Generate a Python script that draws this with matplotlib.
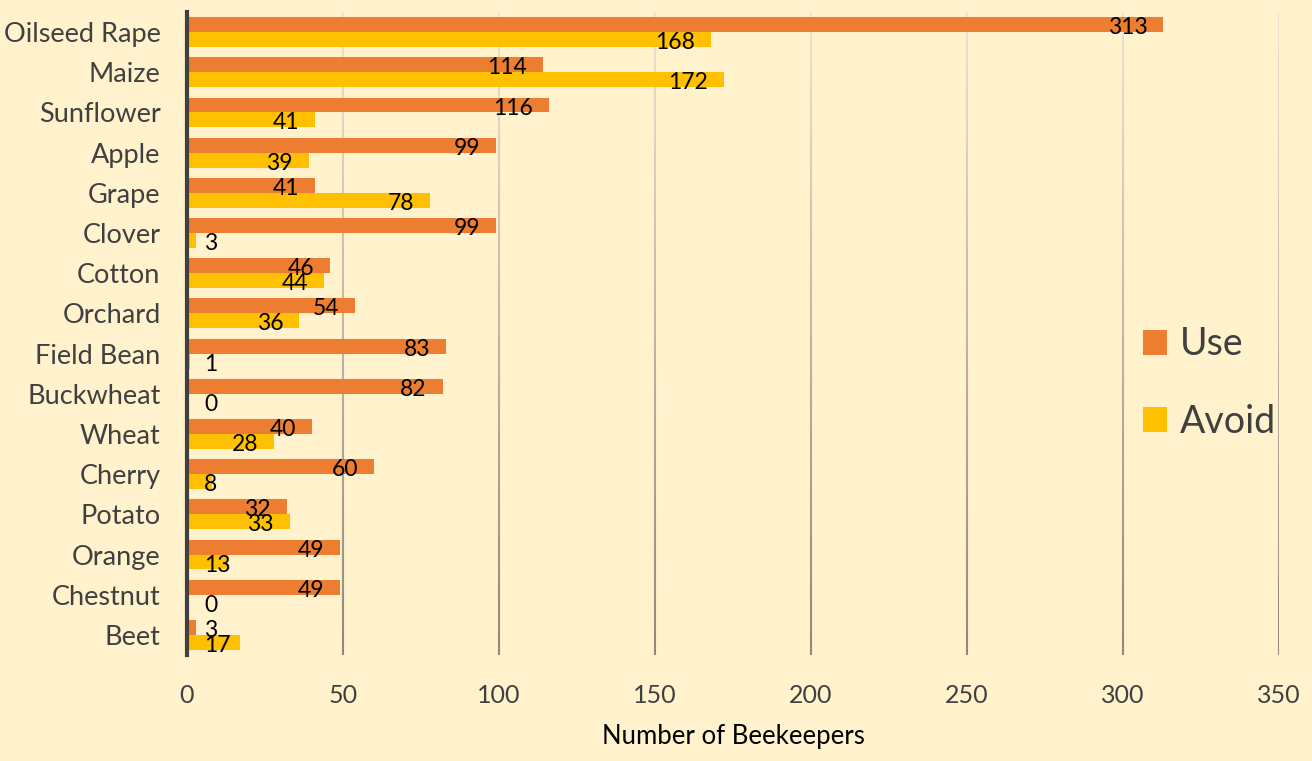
import numpy as np
import matplotlib
matplotlib.use("Agg")
import matplotlib.pyplot as plt
from matplotlib.collections import LineCollection
from matplotlib.colors import to_rgb

plt.rcParams['font.family'] = ['Lato', 'DejaVu Sans']

crops = ['Oilseed Rape', 'Maize', 'Sunflower', 'Apple', 'Grape', 'Clover',
         'Cotton', 'Orchard', 'Field Bean', 'Buckwheat', 'Wheat', 'Cherry',
         'Potato', 'Orange', 'Chestnut', 'Beet']
use = [313, 114, 116, 99, 41, 99, 46, 54, 83, 82, 40, 60, 32, 49, 49, 3]
avoid = [168, 172, 41, 39, 78, 3, 44, 36, 1, 0, 28, 8, 33, 13, 0, 17]
xticks = [0, 50, 100, 150, 200, 250, 300, 350]

BG = '#FFF2CC'
ORANGE = '#ED7D31'
YELLOW = '#FFC000'
GREY = '#404040'

fig = plt.figure(figsize=(13.12, 7.61), dpi=100, facecolor=BG)
ax = fig.add_axes([0.1425, 0.1393, 0.8323, 0.8449], facecolor=BG)

y = np.arange(len(crops))
h = 0.372
ax.barh(y - h / 2, use, h, color=ORANGE, label='Use', zorder=3)
ax.barh(y + h / 2, avoid, h, color=YELLOW, label='Avoid', zorder=3)

ax.set_xlim(0, 350)
ax.set_ylim(len(crops) - 0.5, -0.5)
ax.set_xticks(xticks)
ax.set_yticks(y)
ax.set_yticklabels(crops, fontsize=19.5, color=GREY)
ax.tick_params(axis='x', length=0, pad=21, labelsize=18, labelcolor=GREY)
ax.tick_params(axis='y', length=0, pad=19)

for s in ['top', 'right', 'bottom']:
    ax.spines[s].set_visible(False)
ax.spines['left'].set_color(GREY)
ax.spines['left'].set_linewidth(3)
ax.spines['left'].set_zorder(5)

# gradient gridlines, light at top and darker at the bottom
top_c = np.array(to_rgb('#EDE4CF'))
bot_c = np.array(to_rgb('#8F897E'))
n = 60
ys = np.linspace(-0.5, len(crops) - 0.5, n + 1)
for xv in xticks[1:]:
    segs = [[(xv, ys[i]), (xv, ys[i + 1])] for i in range(n)]
    t = np.linspace(0, 1, n)[:, None]
    cols = top_c * (1 - t) + bot_c * t
    lc = LineCollection(segs, colors=cols, linewidths=1.5, zorder=1)
    ax.add_collection(lc)

# data labels: inside end, or just past the axis when the bar is too short
fig.canvas.draw()
px_per_unit = ax.get_window_extent().width / 350
for vals, off in [(use, -h / 2), (avoid, h / 2)]:
    for i, v in enumerate(vals):
        txt = str(v)
        tw = 12 * len(txt)
        if v * px_per_unit - 16 - tw < 17:
            ax.annotate(txt, xy=(0, i + off), xytext=(17, -3), textcoords='offset pixels',
                        ha='left', va='center', fontsize=16.5, color='black', zorder=6)
        else:
            ax.annotate(txt, xy=(v, i + off), xytext=(-16, -3), textcoords='offset pixels',
                        ha='right', va='center', fontsize=16.5, color='black', zorder=6)

ax.set_xlabel('Number of Beekeepers', fontsize=18.5, color='black', labelpad=12)

leg = ax.legend(loc='center left', bbox_to_anchor=(1143 / 1312, 1 - 383 / 761),
                bbox_transform=fig.transFigure, frameon=False, fontsize=27,
                handlelength=0.64, handleheight=0.64, handletextpad=0.35,
                labelspacing=1.1, borderpad=0, borderaxespad=0)
for t in leg.get_texts():
    t.set_color(GREY)

fig.savefig('out.png', dpi=100, facecolor=BG)
